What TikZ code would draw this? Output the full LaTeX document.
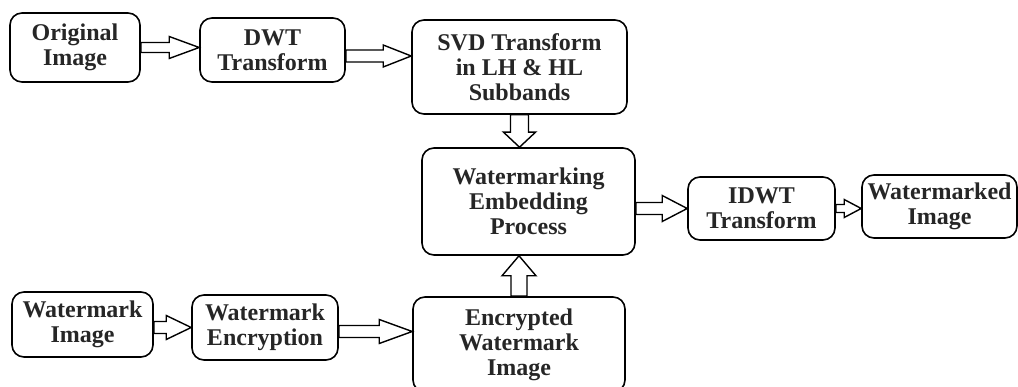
\documentclass[tikz,border=0pt]{standalone}
\usepackage{fontspec}
\setmainfont{Liberation Serif}
\usepackage{tikz}
\usetikzlibrary{calc}
\usetikzlibrary{positioning}

\tikzset{
	stage/.style={draw=black, rounded corners=12pt, line width=1.6pt, align=center,
	              inner sep=2pt, text=black!85,
	              font=\fontsize{24pt}{25pt}\selectfont\bfseries},
	blockarrow/.style n args={3}{to path={
		($(\tikztostart)!#1!90:(\tikztotarget)$)
		-- ($(\tikztotarget)!#3!(\tikztostart)!#1!-90:(\tikztostart)$)
		-- ($(\tikztotarget)!#3!(\tikztostart)!#2!-90:(\tikztostart)$)
		-- (\tikztotarget)
		-- ($(\tikztotarget)!#3!(\tikztostart)!#2!90:(\tikztostart)$)
		-- ($(\tikztotarget)!#3!(\tikztostart)!#1!90:(\tikztostart)$)
		-- ($(\tikztostart)!#1!-90:(\tikztotarget)$) -- cycle}}
}

\begin{document}
\begin{tikzpicture}[x=1pt, y=-1pt]
	\useasboundingbox (0,0) rectangle (1018,387);

	\begin{scope}[every node/.style={stage}]
		\node[minimum width=130pt, minimum height=69pt] (orig) at (75,47.5) {Original\\Image};
		\node[minimum width=145pt, minimum height=64pt] (dwt) at (272.5,50) {DWT\\Transform};
		\node[minimum width=215pt, minimum height=94pt] (svd) at (519.5,67) {SVD Transform\\in LH \& HL\\Subbands};
		\node[minimum width=213pt, minimum height=107pt] (embed) at (528.5,201.5) {Watermarking\\Embedding\\Process};
		\node[minimum width=147pt, minimum height=63pt] (idwt) at (761.5,208.5) {IDWT\\Transform};
		\node[minimum width=155pt, minimum height=63pt] (marked) at (939.5,206.5) {Watermarked\\Image};
		\node[minimum width=141pt, minimum height=65pt] (wmimg) at (82.5,324.5) {Watermark\\Image};
		\node[minimum width=146pt, minimum height=65pt] (encrypt) at (265,327.5) {Watermark\\Encryption};
		\node[minimum width=212pt, minimum height=95pt] (encwm) at (519,344.5) {Encrypted\\Watermark\\Image};
	\end{scope}

	\begin{scope}[every edge/.style={draw=black, fill=white, line width=1.4pt, line join=miter}]
		\path (orig.east) edge[blockarrow={5pt}{11pt}{30pt}] (orig.east -| dwt.west);
		\path ([yshift=-6pt]dwt.east) edge[blockarrow={6pt}{11pt}{28pt}] ([yshift=-6pt]dwt.east -| svd.west);
		\path (svd.south) edge[blockarrow={9pt}{16pt}{15pt}] (svd.south |- embed.north);
		\path (embed.east |- idwt.west) edge[blockarrow={6pt}{13pt}{25pt}] (idwt.west);
		\path (idwt.east) edge[blockarrow={4pt}{9pt}{17pt}] (idwt.east -| marked.west);
		\path (wmimg.east |- encrypt.west) edge[blockarrow={6pt}{12pt}{25pt}] (encrypt.west);
		\path ([yshift=-4pt]encrypt.east) edge[blockarrow={6pt}{12pt}{33pt}] ([yshift=-4pt]encrypt.east -| encwm.west);
		\path (encwm.north) edge[blockarrow={8pt}{17pt}{20pt}] (encwm.north |- embed.south);
	\end{scope}
\end{tikzpicture}
\end{document}
